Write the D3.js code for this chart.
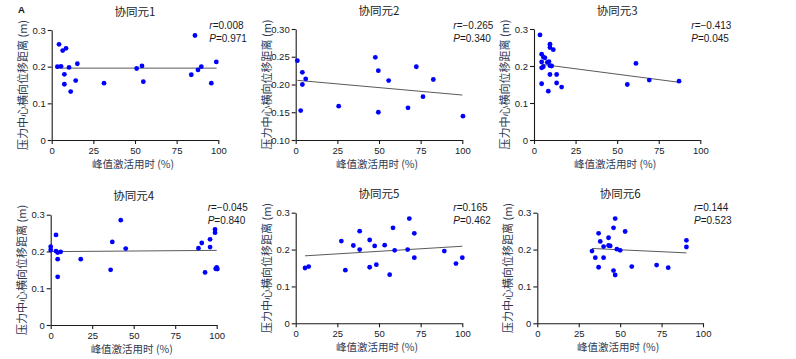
<!DOCTYPE html>
<html>
<head>
<meta charset="utf-8">
<script src="https://cdn.jsdelivr.net/npm/d3@7"></script>
<style>
  html, body { margin: 0; padding: 0; background: #fff; }
  svg { display: block; }
  .tick text { font-family: "Liberation Sans", Arial, sans-serif; font-size: 9.5px; fill: #151a26; }
  .domain, .tick line { stroke: #1a1a1a; stroke-width: 1.1px; }
</style>
</head>
<body>
<svg id="chart"></svg>
<script>
const titles = ["协同元1", "协同元2", "协同元3", "协同元4", "协同元5", "协同元6"];
const rTexts = ["0.008", "\u22120.265", "\u22120.413", "\u22120.045", "0.165", "0.144"];
const pTexts = ["0.971", "0.340", "0.045", "0.840", "0.462", "0.523"];

const xTicks = [0, 25, 50, 75, 100];
const yTicksA = [0, 0.1, 0.2, 0.3];
const yTicksB = [0.10, 0.15, 0.20, 0.25, 0.30];
const yLabelsA = ["0", "0.1", "0.2", "0.3"];
const yLabelsB = ["0.10", "0.15", "0.20", "0.25", "0.30"];

// synergy 1
const xs1 = [3.4, 4.4, 5.6, 6.6, 7.6, 7.6, 8.6, 10.4, 11.4, 14.4, 15.4, 31.4, 51, 54.2, 55, 83.8, 86, 87.8, 89.8, 95.8, 98.8];
const ys1 = [0.200, 0.261, 0.201, 0.244, 0.179, 0.152, 0.250, 0.198, 0.132, 0.162, 0.208, 0.155, 0.195, 0.202, 0.159, 0.178, 0.285, 0.191, 0.200, 0.155, 0.213];
// synergy 2
const xs2 = [1, 3, 4, 4, 6, 25.8, 47.8, 49.6, 49.6, 55.8, 67.4, 72.4, 76.4, 82.6, 100.4];
const ys2 = [0.243, 0.153, 0.222, 0.200, 0.210, 0.161, 0.249, 0.225, 0.150, 0.207, 0.158, 0.232, 0.178, 0.209, 0.143];
// synergy 3
const xs3 = [3.6, 4.6, 4.6, 4.6, 4.6, 5.6, 5.6, 6.6, 8, 8.6, 9, 9.6, 9.6, 9.6, 9.6, 10.6, 11.6, 13.6, 13.6, 16.6, 56.1, 61.3, 69.3, 87.2];
const ys3 = [0.284, 0.232, 0.211, 0.195, 0.152, 0.224, 0.198, 0.222, 0.210, 0.132, 0.212, 0.259, 0.250, 0.201, 0.177, 0.200, 0.244, 0.177, 0.154, 0.143, 0.150, 0.207, 0.162, 0.159];
// synergy 4
const xs4 = [0, 0, 3.2, 3.2, 4.2, 4.2, 4.2, 6, 18.1, 36.1, 37.1, 42.2, 45.2, 89, 91, 93, 96, 96, 99, 99, 99.4, 100, 100.4];
const ys4 = [0.213, 0.204, 0.245, 0.201, 0.197, 0.179, 0.131, 0.199, 0.179, 0.150, 0.226, 0.285, 0.208, 0.209, 0.223, 0.143, 0.233, 0.212, 0.260, 0.251, 0.153, 0.157, 0.152];
// synergy 5
const xs5 = [5.6, 7.8, 27.4, 29.8, 34.6, 38.4, 38.4, 44.4, 44.4, 47.4, 48.4, 53.4, 56.4, 58.4, 59.4, 67.2, 68.2, 71.2, 71.2, 89.2, 96.2, 100];
const ys5 = [0.150, 0.154, 0.223, 0.144, 0.211, 0.250, 0.200, 0.226, 0.152, 0.210, 0.159, 0.212, 0.132, 0.259, 0.198, 0.200, 0.284, 0.244, 0.178, 0.196, 0.162, 0.178];
// synergy 6
const xs6 = [33, 35, 37, 37, 38, 40, 40, 43, 43, 44, 46, 46, 47, 47, 48, 50, 53, 57, 72, 79, 90, 90];
const ys6 = [0.196, 0.178, 0.244, 0.152, 0.222, 0.208, 0.178, 0.232, 0.211, 0.210, 0.259, 0.143, 0.284, 0.131, 0.201, 0.198, 0.249, 0.154, 0.158, 0.151, 0.225, 0.207];

// fitted lines: [x start, y start, x end, y end]
const fit1 = [2.6, 0.196, 99, 0.196];
const fit2 = [1, 0.2075, 100, 0.181];
const fit3 = [4.6, 0.2045, 87.2, 0.156];
const fit4 = [0, 0.1995, 100, 0.203];
const fit5 = [5.6, 0.183, 100, 0.209];
const fit6 = [33, 0.203, 90, 0.191];

const W = 796, H = 359;
const svg = d3.select("#chart").attr("width", W).attr("height", H);

// panel boxes (pixel layout)
const boxes = [
  {x0: 51.7, x1: 218.3, yTop: 30, yBot: 140},
  {x0: 295.7, x1: 462.3, yTop: 29, yBot: 140},
  {x0: 534, x1: 700.3, yTop: 29, yBot: 140},
  {x0: 50.7, x1: 216.7, yTop: 214.7, yBot: 325},
  {x0: 295.7, x1: 462.3, yTop: 212.7, yBot: 323.3},
  {x0: 537.3, x1: 703, yTop: 212.7, yBot: 323.3}
];

const xsAll = [xs1, xs2, xs3, xs4, xs5, xs6];
const ysAll = [ys1, ys2, ys3, ys4, ys5, ys6];
const fits = [fit1, fit2, fit3, fit4, fit5, fit6];

svg.append("text")
  .attr("x", 18).attr("y", 13)
  .style("font-family", "Liberation Sans, Arial, sans-serif")
  .style("font-size", "9.5px").style("font-weight", "bold")
  .attr("fill", "#111")
  .text("A");

boxes.forEach((b, i) => {
  const useB = i === 1;
  const x = d3.scaleLinear().domain([0, 100]).range([b.x0, b.x1]);
  const y = d3.scaleLinear().domain(useB ? [0.10, 0.30] : [0, 0.3]).range([b.yBot, b.yTop]);
  const yT = useB ? yTicksB : yTicksA;
  const yL = useB ? yLabelsB : yLabelsA;

  const g = svg.append("g");

  g.append("g")
    .attr("transform", `translate(0,${b.yBot})`)
    .call(d3.axisBottom(x).tickValues(xTicks).tickSize(4).tickSizeOuter(0).tickPadding(3));

  g.append("g")
    .attr("transform", `translate(${b.x0},0)`)
    .call(d3.axisLeft(y).tickValues(yT).tickFormat((d, k) => yL[k]).tickSize(4).tickSizeOuter(0).tickPadding(2));

  // fit line
  const f = fits[i];
  g.append("line")
    .attr("x1", x(f[0])).attr("y1", y(f[1]))
    .attr("x2", x(f[2])).attr("y2", y(f[3]))
    .attr("stroke", "#5a5a5a").attr("stroke-width", 1);

  // points
  const pts = d3.zip(xsAll[i], ysAll[i]);
  g.selectAll("circle.pt")
    .data(pts)
    .enter()
    .append("circle")
    .attr("class", "pt")
    .attr("cx", d => x(d[0]))
    .attr("cy", d => y(d[1]))
    .attr("r", 2.4)
    .attr("fill", "#0000ff");

  // title
  g.append("text")
    .attr("x", (b.x0 + b.x1) / 2).attr("y", b.yTop - 14.5)
    .attr("text-anchor", "middle")
    .style("font-family", "Noto Sans CJK SC, sans-serif")
    .style("font-size", "11.5px")
    .attr("fill", "#222")
    .text(titles[i]);

  // x label
  g.append("text")
    .attr("x", (b.x0 + b.x1) / 2 - 2).attr("y", b.yBot + 27.5)
    .attr("text-anchor", "middle")
    .style("font-family", "Noto Sans CJK SC, sans-serif")
    .style("font-size", "10.5px")
    .attr("fill", "#2f3a52")
    .text("峰值激活用时 (%)");

  // y label
  g.append("text")
    .attr("transform", `translate(${b.x0 - 25},${(b.yTop + b.yBot) / 2}) rotate(-90)`)
    .attr("text-anchor", "middle")
    .style("font-family", "Noto Sans CJK SC, sans-serif")
    .style("font-size", "11px")
    .attr("fill", "#2f3a52")
    .text("压力中心横向位移距离 (m)");

  // stats
  const row = i < 3 ? 29 : 211;
  const st = g.append("g")
    .style("font-family", "Liberation Sans, Arial, sans-serif")
    .style("font-size", "10px")
    .attr("fill", "#151a26");
  const t1 = st.append("text").attr("x", b.x1 - 9).attr("y", row);
  t1.append("tspan").style("font-style", "italic").text("r");
  t1.append("tspan").text("=" + rTexts[i]);
  const t2 = st.append("text").attr("x", b.x1 - 9).attr("y", row + 13);
  t2.append("tspan").style("font-style", "italic").text("P");
  t2.append("tspan").text("=" + pTexts[i]);
});
</script>
</body>
</html>
